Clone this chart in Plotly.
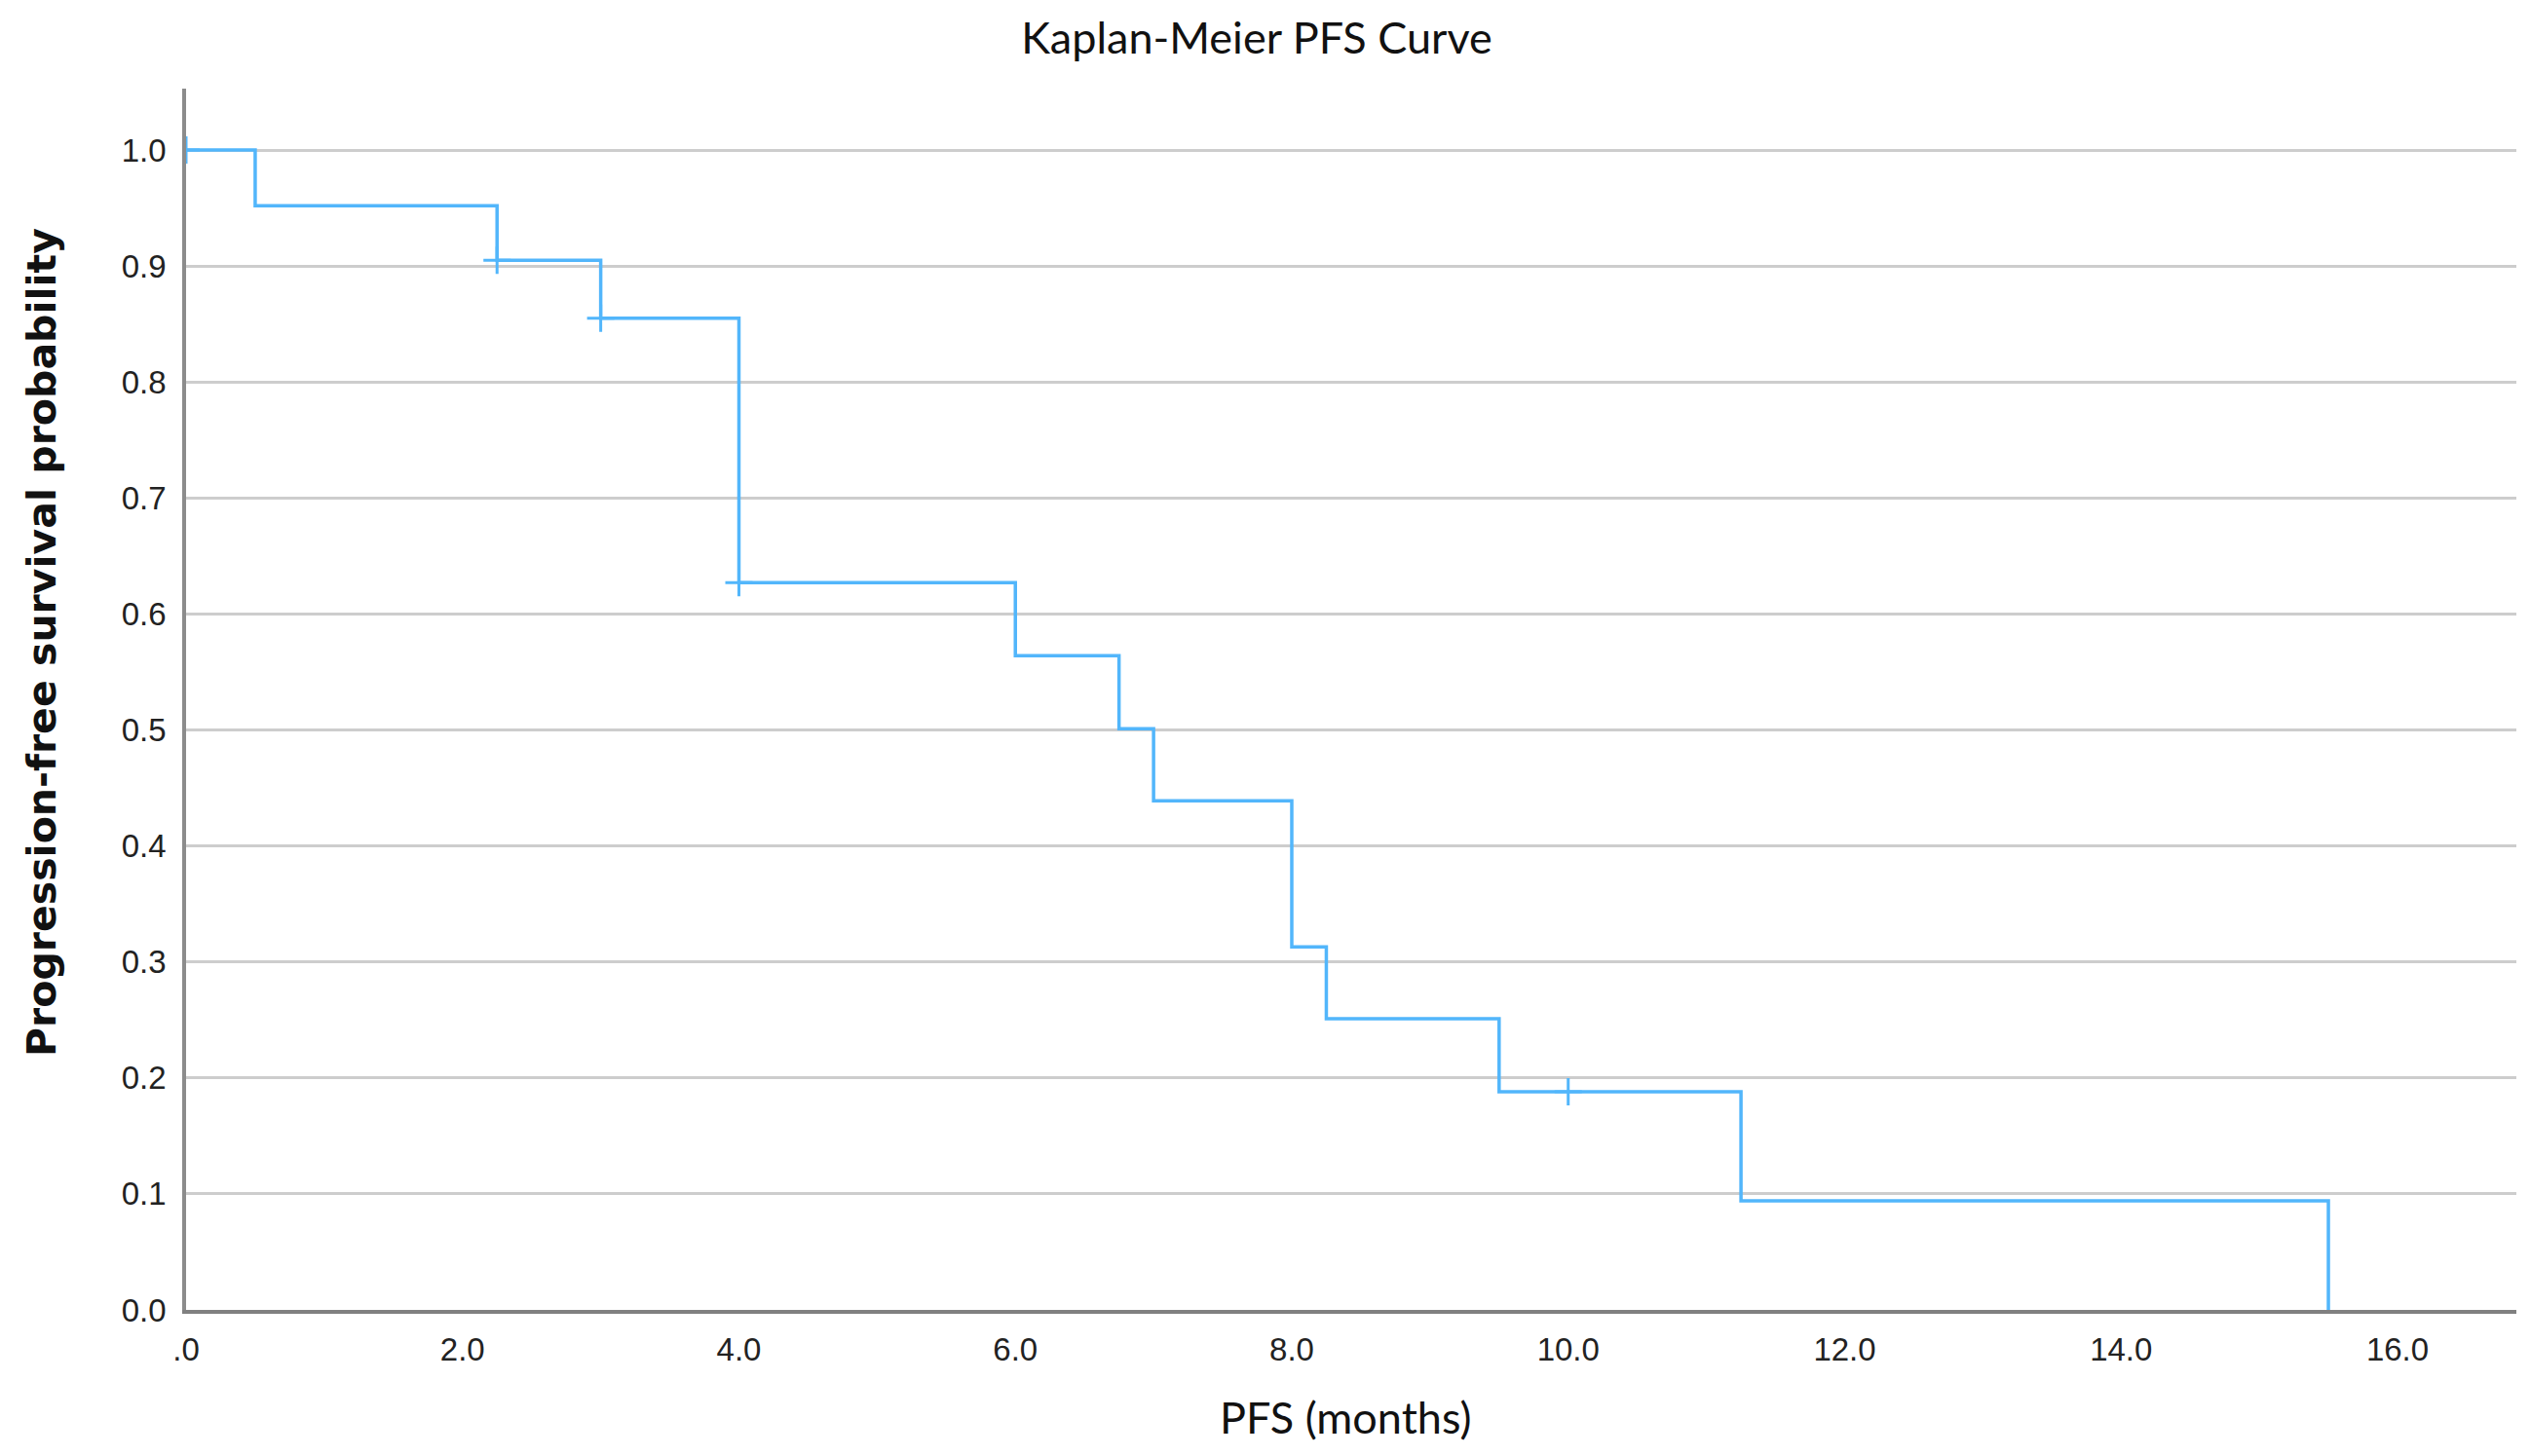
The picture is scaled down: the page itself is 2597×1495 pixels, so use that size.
import plotly.graph_objects as go

# Step times (months) and survival probabilities
step_times = [0.0, 0.5, 2.25, 3.0, 4.0, 6.0, 6.75, 7.0, 8.0, 8.25, 9.5, 11.25, 15.5]
step_surv = [1.0, 0.952, 0.905, 0.855, 0.627, 0.564, 0.501, 0.439, 0.313, 0.251, 0.188, 0.094, 0.0]

# Censored observations
censor_times = [0.0, 2.25, 3.0, 4.0, 10.0]
censor_surv = [1.0, 0.905, 0.855, 0.627, 0.188]

x_tick_vals = [0, 2, 4, 6, 8, 10, 12, 14, 16]
x_tick_text = [".0", "2.0", "4.0", "6.0", "8.0", "10.0", "12.0", "14.0", "16.0"]
y_tick_vals = [0.0, 0.1, 0.2, 0.3, 0.4, 0.5, 0.6, 0.7, 0.8, 0.9, 1.0]
y_tick_text = ["0.0", "0.1", "0.2", "0.3", "0.4", "0.5", "0.6", "0.7", "0.8", "0.9", "1.0"]

LINE = "#52b6fb"

fig = go.Figure()
fig.add_trace(go.Scatter(
    x=step_times, y=step_surv, mode="lines",
    line=dict(shape="hv", color=LINE, width=3.5),
    showlegend=False, hoverinfo="x+y",
))
fig.add_trace(go.Scatter(
    x=censor_times, y=censor_surv, mode="markers",
    marker=dict(symbol="cross-thin", size=20, line=dict(color=LINE, width=3)),
    showlegend=False, hoverinfo="x+y",
))

W, H = 2597, 1495
ml, mr, mt, mb = 183, 22, 83, 158
pw, ph = W - ml - mr, H - mt - mb

fig.update_layout(
    width=W, height=H,
    margin=dict(l=ml, r=mr, t=mt, b=mb),
    paper_bgcolor="white", plot_bgcolor="white",
    title=dict(text="Kaplan-Meier PFS Curve", x=1282 / W, xanchor="center",
               y=1 - 31 / H, yanchor="middle", yref="container",
               font=dict(family="Lato", size=45, color="#111111")),
    xaxis=dict(range=[0, 16.86], tickvals=x_tick_vals, ticktext=x_tick_text,
               showgrid=False, zeroline=False, showline=True, linecolor="#808080",
               linewidth=3.5, ticks="", ticklabelstandoff=9,
               tickfont=dict(family="Liberation Sans", size=33, color="#222222")),
    yaxis=dict(range=[0, 1.053], tickvals=y_tick_vals, ticktext=y_tick_text,
               showgrid=True, gridcolor="#cdcdcd", gridwidth=3,
               zeroline=False, showline=True, linecolor="#8c8c8c", linewidth=3.5,
               ticks="", ticklabelstandoff=10,
               tickfont=dict(family="Liberation Sans", size=33, color="#222222")),
    annotations=[
        dict(text="PFS (months)", xref="paper", yref="paper",
             x=(1373 - ml) / pw, y=(H - mb - 1447) / ph,
             xanchor="center", yanchor="middle", showarrow=False,
             font=dict(family="Lato", size=45, color="#111111")),
        dict(text="<b>Progression-free survival probability</b>", xref="paper", yref="paper",
             x=(35 - ml) / pw, y=(H - mb - 652) / ph,
             xanchor="center", yanchor="middle", textangle=-90, showarrow=False,
             font=dict(family="DejaVu Sans", size=41, color="#111111")),
    ],
)

fig.write_html("out.html")
